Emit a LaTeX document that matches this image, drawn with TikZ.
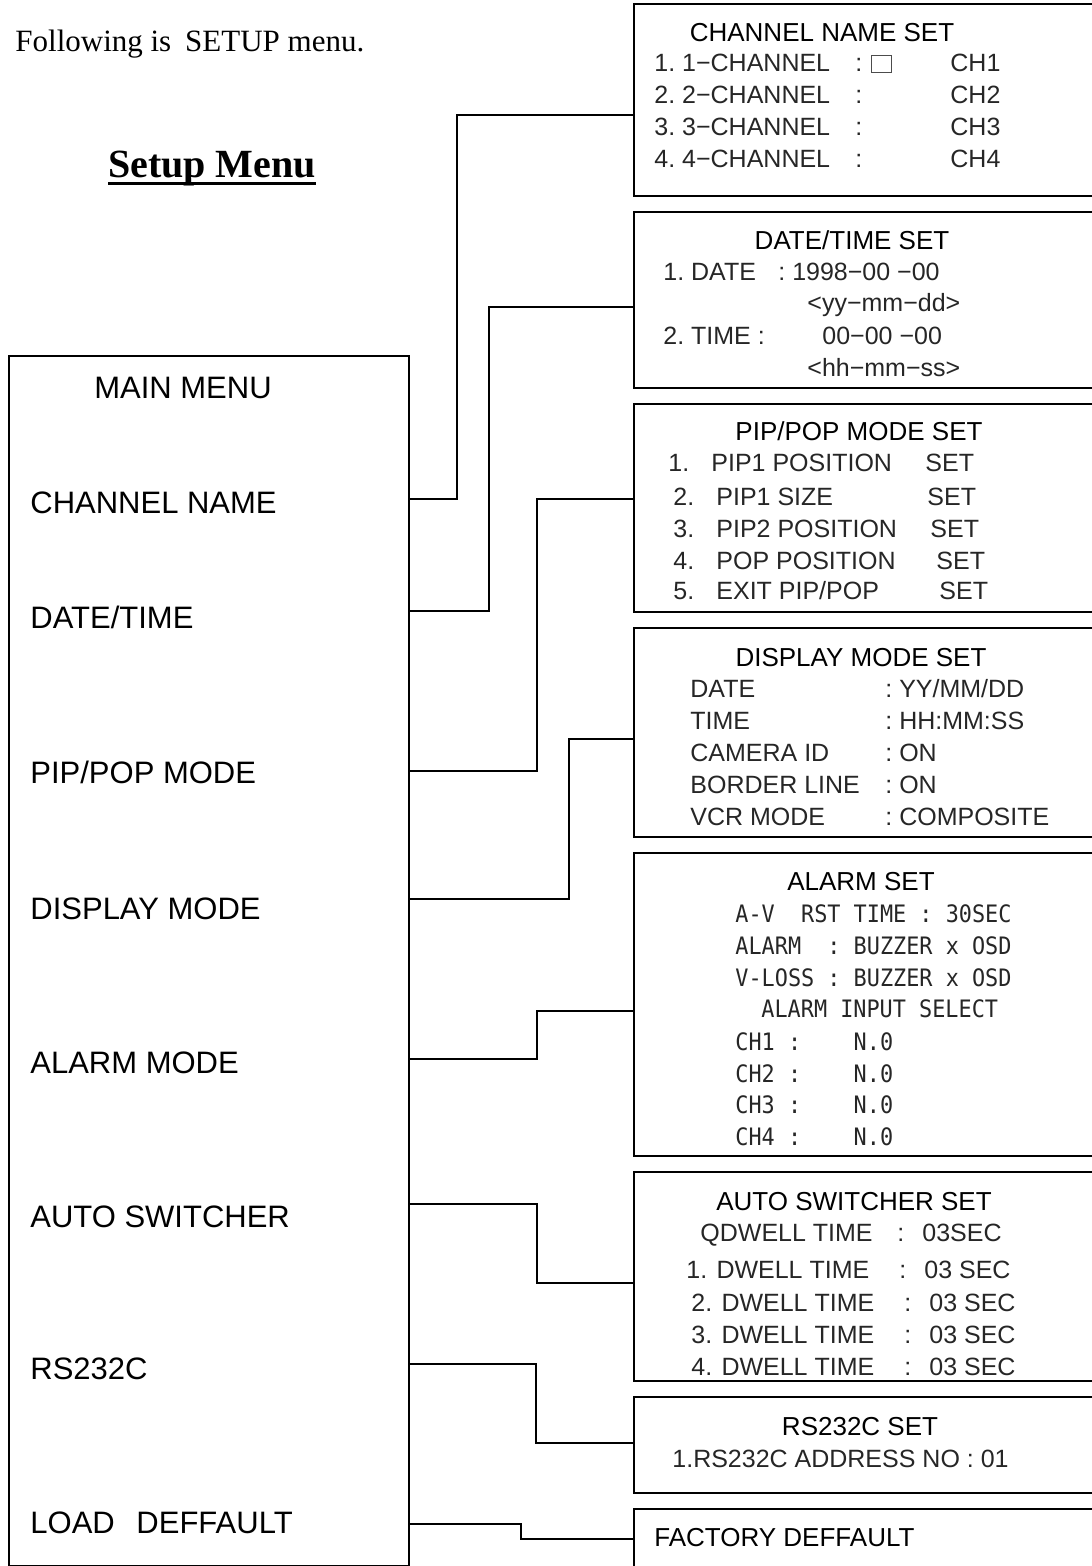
\documentclass[tikz,border=0pt]{standalone}
\usepackage{fontspec}
\setmainfont{Liberation Serif}
\setsansfont{Liberation Sans}
\newfontfamily\alarmmono[FakeStretch=0.91]{DejaVu Sans Mono}
\newcommand{\headline}[1]{\setbox0=\hbox{#1}\rlap{\vrule width\wd0 height-2.2pt depth3.3pt}\box0}
\usetikzlibrary{positioning}

\begin{document}
\begin{tikzpicture}[x=0.5pt,y=-0.5pt,
  box/.style={draw,line width=0.8pt,anchor=north west,inner sep=0pt},
  wire/.style={line width=0.8pt},
  mainlbl/.style={font=\sffamily\fontsize{15.5}{18}\selectfont,anchor=base west,inner sep=0pt},
  settitle/.style={font=\sffamily\fontsize{13}{15}\selectfont,anchor=base,inner sep=0pt},
  item/.style={font=\sffamily\fontsize{12.5}{15}\selectfont,text=black!85,anchor=base west,inner sep=0pt},
  monoitem/.style={font=\alarmmono\fontsize{12}{14}\selectfont,text=black!85,anchor=base west,inner sep=0pt}]
\useasboundingbox (0,0) rectangle (1091,1566);

% heading
\node[font=\fontsize{15.5}{18}\selectfont,anchor=base west,inner sep=0pt] (intro) at (15,52) {Following is\hspace{.45em}SETUP menu.};
\node[font=\bfseries\fontsize{20}{24}\selectfont,anchor=base,inner sep=0pt] (head) at (212,178) {\headline{Setup Menu}};

% main menu
\node[box,minimum width=200pt,minimum height=605pt] (main) at (8,355) {};
\node[mainlbl,anchor=base] (mtitle) at (183,399) {MAIN MENU};
\foreach \y/\t [count=\i] in {514/CHANNEL NAME,628/{DATE/TIME},783/{PIP/POP MODE},919/DISPLAY MODE,
    1073/ALARM MODE,1227/AUTO SWITCHER,1379/RS232C,1533/LOAD\hspace{.7em}DEFFAULT}
  \node[mainlbl] (m\i) at (30,\y) {\t};

% sub menus
\foreach \n/\t/\b in {sChan/3/195,sDate/211/387,sPip/403/611,sDisp/627/836,
    sAlarm/852/1155,sAuto/1171/1380,sRs/1396/1492,sLoad/1508/1620}
  \node[box,minimum width=240pt,minimum height={(\b-\t)*0.5pt}] (\n) at (633,\t) {};

% connectors
\foreach \n/\ys/\xt/\ye in {sChan/499/457/115,sDate/611/489/307,sPip/771/537/499,sDisp/899/569/739,
    sAlarm/1059/537/1011,sAuto/1204/537/1283,sRs/1364/536/1443,sLoad/1524/521/1539}
  \draw[wire] (main.east |- 0,\ys) -| (\xt,\ye) -- (\n.west |- 0,\ye);

% titles
\foreach \x/\y/\t [count=\i] in {822/42/CHANNEL NAME SET,852/250/{DATE/TIME SET},859/441/{PIP/POP MODE SET},
    861/666/DISPLAY MODE SET,861/890/ALARM SET,854/1210/AUTO SWITCHER SET,860/1435/RS232C SET}
  \node[settitle] (title\i) at (\x,\y) {\t};
\node[settitle,anchor=base west] (title8) at (654,1546) {FACTORY DEFFAULT};

% channel name set
\foreach \i in {1,...,4}{
  \node[item] (cn\i) at (654,40+32*\i) {\i.\ \i−CHANNEL};
  \node[item] (cc\i) at (855,40+32*\i) {:};
  \node[item] (cv\i) at (950,40+32*\i) {CH\i};
}
\node[draw=black!70,line width=0.5pt,minimum width=10pt,minimum height=8.5pt,inner sep=0pt,anchor=south west] (cursor) at (871,73) {};

% date/time set
\node[item] (dt1) at (663,281) {1.\ DATE};
\node[item] (dt2) at (778,281) {:\ 1998−00 −00};
\node[item] (dt3) at (807,312) {<yy−mm−dd>};
\node[item] (dt4) at (663,345) {2.\ TIME\ :};
\node[item] (dt5) at (822,345) {00−00 −00};
\node[item] (dt6) at (807,377) {<hh−mm−ss>};

% pip/pop set
\foreach \y/\nx/\lx/\t/\sx [count=\i] in {472/668/711/PIP1 POSITION/925,506/673/716/PIP1 SIZE/927,
    538/673/716/PIP2 POSITION/930,569/673/716/POP POSITION/936,599/673/716/{EXIT PIP/POP}/939}{
  \node[item] (pn\i) at (\nx,\y) {\i.};
  \node[item] (pl\i) at (\lx,\y) {\t};
  \node[item] (ps\i) at (\sx,\y) {SET};
}

% display set
\foreach \y/\l/\v [count=\i] in {697/DATE/{YY/MM/DD},729/TIME/HH:MM:SS,761/CAMERA ID/ON,
    793/BORDER LINE/ON,825/VCR MODE/COMPOSITE}{
  \node[item] (dl\i) at (690,\y) {\l};
  \node[item] (dv\i) at (885,\y) {:\ \v};
}

% alarm set
\foreach \y/\x/\t [count=\i] in {922/735/A-V~~RST TIME~:~30SEC,954/735/ALARM~~:~BUZZER x OSD,
    986/735/V-LOSS~:~BUZZER x OSD,1017/761/ALARM INPUT SELECT,1050/735/CH1~:~~~~N.0,
    1082/735/CH2~:~~~~N.0,1113/735/CH3~:~~~~N.0,1145/735/CH4~:~~~~N.0}
  \node[monoitem] (al\i) at (\x,\y) {\t};

% auto switcher set
\foreach \y/\x/\l/\c/\v [count=\i] in {1241/700/QDWELL TIME/897/03SEC,1278/686/1. DWELL TIME/899/03 SEC,
    1311/691/2. DWELL TIME/904/03 SEC,1343/691/3. DWELL TIME/904/03 SEC,1375/691/4. DWELL TIME/904/03 SEC}{
  \node[item] (aw\i) at (\x,\y) {\l};
  \node[item] (ac\i) at (\c,\y) {:};
  \node[item] (av\i) at (\c+25,\y) {\v};
}

% rs232c set
\node[item] (rs1) at (672,1467) {1.RS232C ADDRESS NO : 01};
\end{tikzpicture}
\end{document}
